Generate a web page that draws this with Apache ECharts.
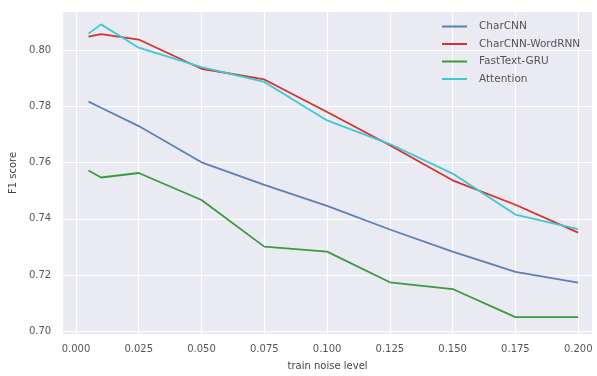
<!DOCTYPE html>
<html>
<head>
<meta charset="utf-8">
<script src="https://cdn.jsdelivr.net/npm/echarts@6/dist/echarts.min.js"></script>
<style>html,body{margin:0;padding:0;background:#fff;}#c{width:597px;height:376px;}</style>
</head>
<body>
<div id="c"></div>
<script>
const noise = [0.005, 0.01, 0.025, 0.05, 0.075, 0.1, 0.125, 0.15, 0.175, 0.2];
const charCNN = [0.7817, 0.7795, 0.7730, 0.7601, 0.7521, 0.7446, 0.7362, 0.7283, 0.7211, 0.7173];
const charCNNWordRNN = [0.8048, 0.8057, 0.8038, 0.7934, 0.7896, 0.7780, 0.7662, 0.7537, 0.7450, 0.7351];
const fastTextGRU = [0.7572, 0.7547, 0.7563, 0.7467, 0.7301, 0.7283, 0.7174, 0.7150, 0.7050, 0.7050];
const attention = [0.8059, 0.8092, 0.8009, 0.7940, 0.7887, 0.7750, 0.7666, 0.7561, 0.7415, 0.7363];
const xTicks = [0.000, 0.025, 0.050, 0.075, 0.100, 0.125, 0.150, 0.175, 0.200];
const yTicks = [0.70, 0.72, 0.74, 0.76, 0.78, 0.80];

const names = ['CharCNN', 'CharCNN-WordRNN', 'FastText-GRU', 'Attention'];
const colors = ['#5f7db7', '#d8302c', '#3a9a3a', '#3cc9d2'];
const values = [charCNN, charCNNWordRNN, fastTextGRU, attention];

const chart = echarts.init(document.getElementById('c'));
const font = 'DejaVu Sans';
chart.setOption({
  animation: false,
  backgroundColor: '#ffffff',
  grid: {left: 62, right: 5, top: 12, bottom: 36, show: true, backgroundColor: '#EAEAF2', borderWidth: 0},
  xAxis: {
    type: 'value', min: -0.0051, max: 0.2055,
    name: 'train noise level', nameLocation: 'middle', nameGap: 27,
    nameTextStyle: {fontFamily: font, fontSize: 10, color: '#444'},
    axisLine: {show: false}, axisTick: {show: false, customValues: xTicks},
    axisLabel: {customValues: xTicks, fontFamily: font, fontSize: 10, color: '#555', margin: 10,
      formatter: v => v.toFixed(3)},
    splitLine: {show: true, lineStyle: {color: '#ffffff', width: 1.2}}
  },
  yAxis: {
    type: 'value', min: 0.699, max: 0.8136,
    name: 'F1 score', nameLocation: 'middle', nameGap: 43, nameRotate: 90,
    nameTextStyle: {fontFamily: font, fontSize: 10, color: '#444'},
    axisLine: {show: false}, axisTick: {show: false, customValues: yTicks},
    axisLabel: {customValues: yTicks, fontFamily: font, fontSize: 10, color: '#555', margin: 12,
      formatter: v => v.toFixed(2)},
    splitLine: {show: true, lineStyle: {color: '#ffffff', width: 1.2}}
  },
  legend: {
    orient: 'vertical', left: 437, top: 16, itemWidth: 25, itemHeight: 12, itemGap: 6.5,
    icon: 'path://M0,5 L25,5 L25,7 L0,7 Z',
    textStyle: {fontFamily: font, fontSize: 10.5, color: '#555', padding: [0, 0, 0, 7]},
    data: names
  },
  series: names.map((n, i) => ({
    name: n, type: 'line', symbol: 'none', color: colors[i],
    lineStyle: {width: 1.8, color: colors[i]},
    data: noise.map((x, j) => [x, values[i][j]])
  }))
});
</script>
</body>
</html>
